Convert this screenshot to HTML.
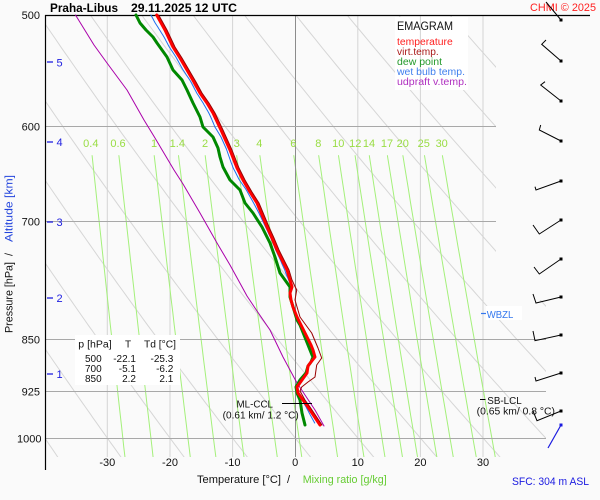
<!DOCTYPE html>
<html><head><meta charset="utf-8">
<style>
html,body{margin:0;padding:0;background:#fafafa;}
svg{display:block;font-family:"Liberation Sans",Arial,sans-serif;}
</style></head><body>
<svg id="s" width="600" height="500" viewBox="0 0 600 500" xmlns="http://www.w3.org/2000/svg">
<defs><clipPath id="cp"><polygon points="45,15 496,15 496,300 546,300 546,457 45,457"/></clipPath></defs>
<rect width="600" height="500" fill="#fafafa"/>
<g id="adiab" clip-path="url(#cp)"></g>
<!-- legend box -->
<rect x="395" y="17" width="73" height="73" fill="#ffffff"/>
<g id="iso" stroke="#d4d4d4" stroke-width="1">
<line x1="107.3" y1="15" x2="107.3" y2="457"/>
<line x1="170" y1="15" x2="170" y2="457"/>
<line x1="232.6" y1="15" x2="232.6" y2="457"/>
<line x1="357.8" y1="15" x2="357.8" y2="457"/>
<line x1="420.4" y1="15" x2="420.4" y2="457"/>
<line x1="483" y1="15" x2="483" y2="457"/>
</g>
<g id="mix" clip-path="url(#cp)"></g>
<line x1="295.5" y1="15" x2="295.5" y2="457" stroke="#8c8c8c" stroke-width="1"/>
<g stroke="#a8a8a8" stroke-width="1">
<line x1="45" y1="126.5" x2="496" y2="126.5"/>
<line x1="45" y1="221.5" x2="496" y2="221.5"/>
<line x1="45" y1="339.5" x2="546" y2="339.5"/>
<line x1="45" y1="391.5" x2="546" y2="391.5"/>
<line x1="45" y1="438.5" x2="546" y2="438.5"/>
</g>
<line x1="45" y1="15.5" x2="590" y2="15.5" stroke="#000" stroke-width="1.2"/>
<line x1="45.5" y1="15" x2="45.5" y2="470" stroke="#000" stroke-width="1.2"/>
<!-- table box -->
<rect x="75" y="335" width="105" height="50" fill="#ffffff"/>
<!-- WBZL box -->
<rect x="486" y="306" width="36" height="14" fill="#ffffff"/>

<g id="prof"></g>

<!-- title -->
<text x="50" y="12" font-size="12" font-weight="bold" textLength="68" lengthAdjust="spacingAndGlyphs">Praha-Libus</text>
<text x="131" y="12" font-size="12" font-weight="bold" textLength="106" lengthAdjust="spacingAndGlyphs">29.11.2025 12 UTC</text>
<text x="530" y="11" font-size="11" fill="#ff2020" textLength="66" lengthAdjust="spacingAndGlyphs">CHMI © 2025</text>

<!-- legend -->
<text x="397" y="30" font-size="11.5" fill="#111" textLength="56" lengthAdjust="spacingAndGlyphs">EMAGRAM</text>
<text x="397" y="45" font-size="10" fill="#ff2020" textLength="55.7" lengthAdjust="spacingAndGlyphs">temperature</text>
<text x="397" y="55" font-size="10" fill="#aa1a1a" textLength="41.7" lengthAdjust="spacingAndGlyphs">virt.temp.</text>
<text x="397" y="65" font-size="10" fill="#22992a" textLength="45" lengthAdjust="spacingAndGlyphs">dew point</text>
<text x="397" y="75" font-size="10" fill="#3f7fee" textLength="68" lengthAdjust="spacingAndGlyphs">wet bulb temp.</text>
<text x="397" y="85" font-size="10" fill="#b030c0" textLength="70" lengthAdjust="spacingAndGlyphs">udpraft v.temp.</text>

<!-- pressure labels -->
<g font-size="11" text-anchor="end" fill="#111">
<text x="40" y="19">500</text>
<text x="40" y="130.5">600</text>
<text x="40" y="225.5">700</text>
<text x="40" y="343.5">850</text>
<text x="40" y="395.5">925</text>
<text x="41.5" y="442.5">1000</text>
</g>
<!-- altitude labels -->
<g stroke="#2020e0" stroke-width="1.3">
<line x1="47" y1="62" x2="53" y2="62"/>
<line x1="47" y1="142" x2="53" y2="142"/>
<line x1="47" y1="222" x2="53" y2="222"/>
<line x1="47" y1="298" x2="53" y2="298"/>
<line x1="47" y1="374" x2="53" y2="374"/>
</g>
<g font-size="11" fill="#2020e0">
<text x="56.5" y="66.5">5</text>
<text x="56.5" y="146">4</text>
<text x="56.5" y="226">3</text>
<text x="56.5" y="302">2</text>
<text x="56.5" y="378">1</text>
</g>
<!-- y title -->
<text transform="translate(12.5,333) rotate(-90)" font-size="11" fill="#111" textLength="71" lengthAdjust="spacingAndGlyphs">Pressure [hPa]</text>
<text transform="translate(12.5,256) rotate(-90)" font-size="11" fill="#111">/</text>
<text transform="translate(12.5,242) rotate(-90)" font-size="11" fill="#2244dd" textLength="67" lengthAdjust="spacingAndGlyphs">Altitude [km]</text>

<!-- x labels -->
<g font-size="11" text-anchor="middle" fill="#111">
<text x="107.3" y="466">-30</text>
<text x="170" y="466">-20</text>
<text x="232.6" y="466">-10</text>
<text x="295.2" y="466">0</text>
<text x="357.8" y="466">10</text>
<text x="420.4" y="466">20</text>
<text x="483" y="466">30</text>
</g>
<text x="197" y="483" font-size="11" fill="#111" textLength="84" lengthAdjust="spacingAndGlyphs">Temperature [°C]</text>
<text x="287" y="483" font-size="11" fill="#111">/</text>
<text x="302.7" y="483" font-size="11" fill="#66cc33" textLength="84" lengthAdjust="spacingAndGlyphs">Mixing ratio [g/kg]</text>
<text x="512" y="485" font-size="11" fill="#1a1ae0" textLength="77" lengthAdjust="spacingAndGlyphs">SFC: 304 m ASL</text>

<!-- mixing ratio labels -->
<g font-size="11" text-anchor="middle" fill="#99dd44">
<text x="90.8" y="147">0.4</text>
<text x="118" y="147">0.6</text>
<text x="154" y="147">1</text>
<text x="177.3" y="147">1.4</text>
<text x="205" y="147">2</text>
<text x="236.7" y="147">3</text>
<text x="259.3" y="147">4</text>
<text x="293.3" y="147">6</text>
<text x="318.3" y="147">8</text>
<text x="338.3" y="147">10</text>
<text x="355.3" y="147">12</text>
<text x="369" y="147">14</text>
<text x="387" y="147">17</text>
<text x="402.8" y="147">20</text>
<text x="423.8" y="147">25</text>
<text x="441.7" y="147">30</text>
</g>

<!-- table -->
<g font-size="10" fill="#111">
<text x="78.3" y="347.5" textLength="33.4" lengthAdjust="spacingAndGlyphs">p [hPa]</text>
<text x="125" y="347.5">T</text>
<text x="144" y="347.5" textLength="32" lengthAdjust="spacingAndGlyphs">Td [°C]</text>
</g>
<g font-size="10" fill="#111" text-anchor="end">
<text x="101.7" y="362">500</text><text x="136" y="362">-22.1</text><text x="173.3" y="362">-25.3</text>
<text x="101.7" y="372">700</text><text x="136" y="372">-5.1</text><text x="173.3" y="372">-6.2</text>
<text x="101.7" y="382">850</text><text x="136" y="382">2.2</text><text x="173.3" y="382">2.1</text>
</g>

<!-- CCL / LCL / WBZL -->
<line x1="282" y1="403.5" x2="312" y2="403.5" stroke="#000" stroke-width="1"/>
<text x="273" y="407.5" font-size="10" fill="#111" text-anchor="end" textLength="36.5" lengthAdjust="spacingAndGlyphs">ML-CCL</text>
<text x="222.7" y="418.5" font-size="10" fill="#111" textLength="76" lengthAdjust="spacingAndGlyphs">(0.61 km/ 1.2 °C)</text>
<line x1="480" y1="399.5" x2="485.5" y2="399.5" stroke="#000" stroke-width="1"/>
<text x="487.3" y="404" font-size="10" fill="#111" textLength="34.4" lengthAdjust="spacingAndGlyphs">SB-LCL</text>
<text x="476.7" y="414.5" font-size="10" fill="#111" textLength="78.3" lengthAdjust="spacingAndGlyphs">(0.65 km/ 0.8 °C)</text>
<line x1="481" y1="313.5" x2="486" y2="313.5" stroke="#3377ee" stroke-width="1.2"/>
<text x="486.7" y="318" font-size="10" fill="#3377ee" textLength="26.6" lengthAdjust="spacingAndGlyphs">WBZL</text>

<!-- wind barbs -->
<g fill="none" stroke="#000" stroke-width="1">
<path d="M561,20 L546,2"/>
<path d="M561,61 L541.7,44.3 L546,40"/>
<path d="M561,101 L540.7,85 L545,81.7"/>
<path d="M561,141 L539.3,130 L540.7,125"/>
<path d="M561,181 L536,190 L535,186.7"/>
<path d="M561,220 L539.3,234 L533,225"/>
<path d="M561,259 L539.3,274 L534,267"/>
<path d="M561,297 L536,303 L533,294"/>
<path d="M561,335 L535,340.7 L533,331"/>
<path d="M561,373 L536,381 L535,377"/>
<path d="M561,411 L537,420.7 L533,411"/>
</g>
<path d="M561,425 L548,448" stroke="#1a1ae0" stroke-width="1.2" fill="none"/>
<g fill="#000">
<rect x="559.5" y="18.5" width="3" height="3"/>
<rect x="559.5" y="59.5" width="3" height="3"/>
<rect x="559.5" y="99.5" width="3" height="3"/>
<rect x="559.5" y="139.5" width="3" height="3"/>
<rect x="559.5" y="179.5" width="3" height="3"/>
<rect x="559.5" y="218.5" width="3" height="3"/>
<rect x="559.5" y="257.5" width="3" height="3"/>
<rect x="559.5" y="295.5" width="3" height="3"/>
<rect x="559.5" y="333.5" width="3" height="3"/>
<rect x="559.5" y="371.5" width="3" height="3"/>
<rect x="559.5" y="409.5" width="3" height="3"/>
</g>
<rect x="559.5" y="423.5" width="3" height="3" fill="#1a1ae0"/>
</svg>
<script>
(function(){
var NS="http://www.w3.org/2000/svg";
function X(t){return 295.2+6.262*t;}
function Y(p){return 15+610.3*Math.log(p/500);}
function el(par,tag,at){var e=document.createElementNS(NS,tag);for(var k in at)e.setAttribute(k,at[k]);par.appendChild(e);return e;}
function pl(par,pts,stroke,w){
  el(par,'polyline',{points:pts.map(function(p){return p[0].toFixed(1)+','+p[1].toFixed(1);}).join(' '),fill:'none',stroke:stroke,'stroke-width':w,'stroke-linejoin':'round','stroke-linecap':'round'});
}
// dry adiabats
var ad=document.getElementById('adiab');
for(var th=-40;th<=130;th+=10){
  var pts=[];
  for(var p=480;p<=1045;p+=8){var T=(th+273.15)*Math.pow(p/1000,0.286)-273.15;pts.push([X(T),Y(p)]);}
  pl(ad,pts,'#d6d6d6',1);
}
// mixing ratio
var mx=document.getElementById('mix');
[0.4,0.6,1,1.4,2,3,4,6,8,10,12,14,17,20,25,30].forEach(function(w){
  var pts=[];
  for(var i=0;i<=24;i++){var p=629.5+(1032-629.5)*i/24;var e=w*p/(622+w);var l=Math.log(e/6.112);var T=243.5*l/(17.67-l);pts.push([X(T),Y(p)]);}
  pl(mx,pts,'#a4f07a',1);
});
var R=[[156.7,15],[165,30],[173,47],[180,58],[187,70],[194,82],[200,93],[207,103],[213,113],[221,130],[230,150],[237,168],[243,180],[250,192],[257,203],[262,215],[267,227],[272,238],[277,250],[282,260],[287,270],[290,280],[292,287],[290,293],[291,300],[293,307],[297,317],[302,327],[307,337],[311,345],[313,350],[315,357],[311,362],[308,366],[307,373],[302,380],[297,387],[298,393],[303,400],[308,407],[312,413],[316,419],[320,425]];
var G=[[136,15],[140,23],[146,30],[153,37],[157,43],[162,50],[167,57],[173,70],[182,80],[187,90],[193,103],[200,117],[203,127],[213,137],[218,148],[220,157],[223,167],[230,180],[240,190],[245,203],[253,213],[262,227],[266,235],[270,243],[275,257],[280,273],[285,280],[290,287],[290,297],[294,310],[297,320],[300,325],[304,335],[308,345],[312,355],[313,357],[311,362],[308,366],[306,373],[300,380],[296,387],[297,393],[300,400],[302,413],[305,425]];
var P=[[75.5,15],[94,45],[107,63],[127,90],[144,120],[155,138],[174,170],[183,184],[200,213],[217,243],[230,265],[241,285],[247,296],[257,311],[270,330],[283,357],[297,383],[305,395],[315,410],[324,426]];
function xAt(a,y){
  if(y<=a[0][1])return a[0][0];
  for(var i=1;i<a.length;i++){if(a[i][1]>=y){var f=(y-a[i-1][1])/(a[i][1]-a[i-1][1]);return a[i-1][0]+f*(a[i][0]-a[i-1][0]);}}
  return a[a.length-1][0];
}
var V=[];
R.forEach(function(p){if(p[1]<285)V.push([p[0]+2,p[1]]);});
[[296.7,290],[295,300],[300,317],[311.7,333],[318,348],[321.7,358],[316.7,365],[315,377],[308,382],[301.7,387],[300,391]].forEach(function(p){V.push(p);});
R.forEach(function(p){if(p[1]>=395)V.push([p[0]+2,p[1]]);});
var B=[];
for(var y=15;y<=424;y+=2){var r=xAt(R,y),g=xAt(G,y);B.push([g+0.72*(r-g),y]);}
var pr=document.getElementById('prof');
pl(pr,P,'#aa00aa',1);
pl(pr,G,'#008800',3);
pl(pr,B,'#1e6ef0',1);
pl(pr,R,'#ff0000',3);
pl(pr,V,'#990000',1);
})();
</script>
</body></html>
